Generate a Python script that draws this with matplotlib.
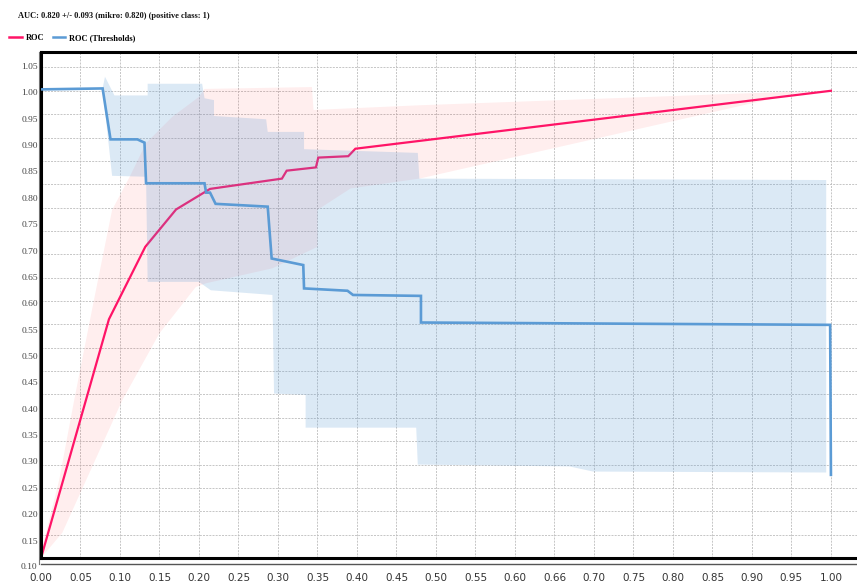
import numpy as np
import matplotlib
matplotlib.use("Agg")
import matplotlib.pyplot as plt
from matplotlib.lines import Line2D
from matplotlib import transforms

# ---------------- data ----------------
title_text = "AUC: 0.820 +/- 0.093 (mikro: 0.820) (positive class: 1)"
series_names = ["ROC", "ROC (Thresholds)"]

# ROC curve (FPR vs TPR)
roc_x = [0.0, 0.086, 0.132, 0.171, 0.214, 0.305, 0.311, 0.348, 0.351, 0.389, 0.398, 1.0]
roc_y = [0.0, 0.511, 0.666, 0.746, 0.790, 0.812, 0.829, 0.836, 0.857, 0.860, 0.876, 1.0]

# ROC +/- std band
roc_up_x = [0.0, 0.0025, 0.023, 0.042, 0.067, 0.090, 0.112, 0.133, 0.166, 0.200, 0.207, 0.343, 0.345, 0.479, 0.901, 1.0]
roc_up_y = [0.0, 0.028, 0.167, 0.338, 0.552, 0.745, 0.815, 0.888, 0.944, 0.987, 1.004, 1.008, 0.959, 0.969, 0.995, 1.0]
roc_lo_x = [0.0, 0.027, 0.103, 0.150, 0.196, 0.209, 0.293, 0.350, 0.350, 0.392, 0.479, 0.957, 1.0]
roc_lo_y = [0.0, 0.054, 0.338, 0.481, 0.580, 0.588, 0.620, 0.666, 0.745, 0.791, 0.812, 0.995, 1.0]

# Thresholds curve
thr_x = [0.0, 0.078, 0.088, 0.122, 0.131, 0.133, 0.207, 0.209, 0.214, 0.221, 0.287, 0.292,
         0.332, 0.333, 0.388, 0.395, 0.481, 0.481, 0.999, 1.0]
thr_y = [1.003, 1.005, 0.896, 0.896, 0.889, 0.802, 0.802, 0.782, 0.782, 0.758, 0.752, 0.641,
         0.627, 0.577, 0.572, 0.563, 0.561, 0.504, 0.499, 0.178]

# Thresholds +/- std band
thr_up_x = [0.078, 0.081, 0.093, 0.135, 0.135, 0.204, 0.207, 0.219, 0.219, 0.285, 0.287,
            0.333, 0.333, 0.477, 0.479, 0.994]
thr_up_y = [1.005, 1.030, 0.990, 0.990, 1.015, 1.015, 0.984, 0.980, 0.946, 0.939, 0.912,
            0.912, 0.875, 0.867, 0.812, 0.809]
thr_lo_x = [0.078, 0.090, 0.133, 0.135, 0.200, 0.215, 0.293, 0.295, 0.335, 0.335, 0.475,
            0.477, 0.669, 0.699, 0.994]
thr_lo_y = [1.005, 0.818, 0.816, 0.591, 0.591, 0.573, 0.563, 0.352, 0.349, 0.279, 0.279,
            0.200, 0.196, 0.185, 0.183]

x_ticks = [0.00, 0.05, 0.10, 0.15, 0.20, 0.25, 0.30, 0.35, 0.40, 0.45, 0.50,
           0.55, 0.60, 0.65, 0.70, 0.75, 0.80, 0.85, 0.90, 0.95, 1.00]
x_tick_labels = ["0.00", "0.05", "0.10", "0.15", "0.20", "0.25", "0.30", "0.35", "0.40", "0.45", "0.50",
                 "0.55", "0.60", "0.66", "0.70", "0.75", "0.80", "0.85", "0.90", "0.95", "1.00"]
y_grid = [0.00, 0.05, 0.10, 0.15, 0.20, 0.25, 0.30, 0.35, 0.40, 0.45, 0.50,
          0.55, 0.60, 0.65, 0.70, 0.75, 0.80, 0.85, 0.90, 0.95, 1.00, 1.05]
y_tick_labels_vals = [0.10, 0.15, 0.20, 0.25, 0.30, 0.35, 0.40, 0.45, 0.50, 0.55, 0.60,
                      0.65, 0.70, 0.75, 0.80, 0.85, 0.90, 0.95, 1.00, 1.05]

# ---------------- style ----------------
RED = "#ff1467"
BLUE = "#5b9bd5"

fig = plt.figure(figsize=(8.57, 5.87), dpi=100)
ax = fig.add_axes([41 / 857, 1 - 558 / 587, 1 - 41 / 857, (558 - 52) / 587])

ax.set_xlim(0, 1.033)
ax.set_ylim(0, 1.083)

# bands and lines
ax.fill(list(roc_up_x) + list(roc_lo_x[::-1]), list(roc_up_y) + list(roc_lo_y[::-1]),
        color="#ff0000", alpha=0.065, lw=0, zorder=1)
ax.plot(roc_x, roc_y, color=RED, lw=1.6, zorder=2, solid_joinstyle="miter")
ax.fill(list(thr_up_x) + list(thr_lo_x[::-1]), list(thr_up_y) + list(thr_lo_y[::-1]),
        color=BLUE, alpha=0.22, lw=0, zorder=3)
ax.plot(thr_x, thr_y, color=BLUE, lw=1.9, zorder=4, solid_joinstyle="miter")

# grid
ax.set_xticks(x_ticks)
ax.set_xticklabels(x_tick_labels, fontsize=7.5, color="#333333", family="DejaVu Sans")
ax.set_yticks(y_grid)
ax.set_yticklabels([])
ax.tick_params(axis="both", length=0)
ax.tick_params(axis="x", pad=11)
ax.grid(True, color="#bdbdbd", lw=0.6, linestyle=(0, (2.4, 1.4)), zorder=0)
ax.set_axisbelow(True)

ax.spines["right"].set_visible(False)
for s in ["left", "bottom", "top"]:
    ax.spines[s].set_color("black")
    ax.spines[s].set_linewidth(2.2)
# second (outer) line of the double frame
ax.plot([0, 1], [-0.011, -0.011], transform=ax.transAxes, color="#555555", lw=1.0, clip_on=False)
ax.plot([-0.003, -0.003], [-0.011, 1], transform=ax.transAxes, color="#777777", lw=0.8, clip_on=False)

# y tick labels: placed with their own (label) scale
a_lab, b_lab = 1.1286, -0.132


def fwd(y):
    return (np.asarray(y) - b_lab) / a_lab


def inv(v):
    return a_lab * np.asarray(v) + b_lab


sec = ax.secondary_yaxis("left", functions=(fwd, inv))
sec.set_yticks(y_tick_labels_vals)
sec.set_yticklabels(["%.2f" % v for v in y_tick_labels_vals], fontsize=6.8,
                    color="#444444", family="Liberation Serif")
sec.tick_params(length=0, pad=2)
sec.spines["left"].set_visible(False)
# label below the frame (outside the data range)
tr = transforms.blended_transform_factory(ax.transAxes, ax.transData)
ax.text(-0.004, float(inv(y_tick_labels_vals[0])), "%.2f" % y_tick_labels_vals[0],
        transform=tr, ha="right", va="center", fontsize=6.8, color="#444444",
        family="Liberation Serif", clip_on=False)

# title + legend
fig.text(18 / 857, 1 - 16 / 587, title_text, fontsize=6, fontweight="bold",
         family="Liberation Serif", va="center", ha="left", color="#111111")
handles = [Line2D([0], [0], color=RED, lw=1.8), Line2D([0], [0], color=BLUE, lw=1.8)]
leg = fig.legend(handles, series_names, loc="center left", bbox_to_anchor=(9 / 857, 1 - 38 / 587),
                 ncol=2, frameon=False, prop={"family": "Liberation Serif", "size": 6, "weight": "bold"},
                 handlelength=1.5, handletextpad=0.5, columnspacing=1.0, borderaxespad=0,
                 borderpad=0)

fig.savefig("out.png", dpi=100)
